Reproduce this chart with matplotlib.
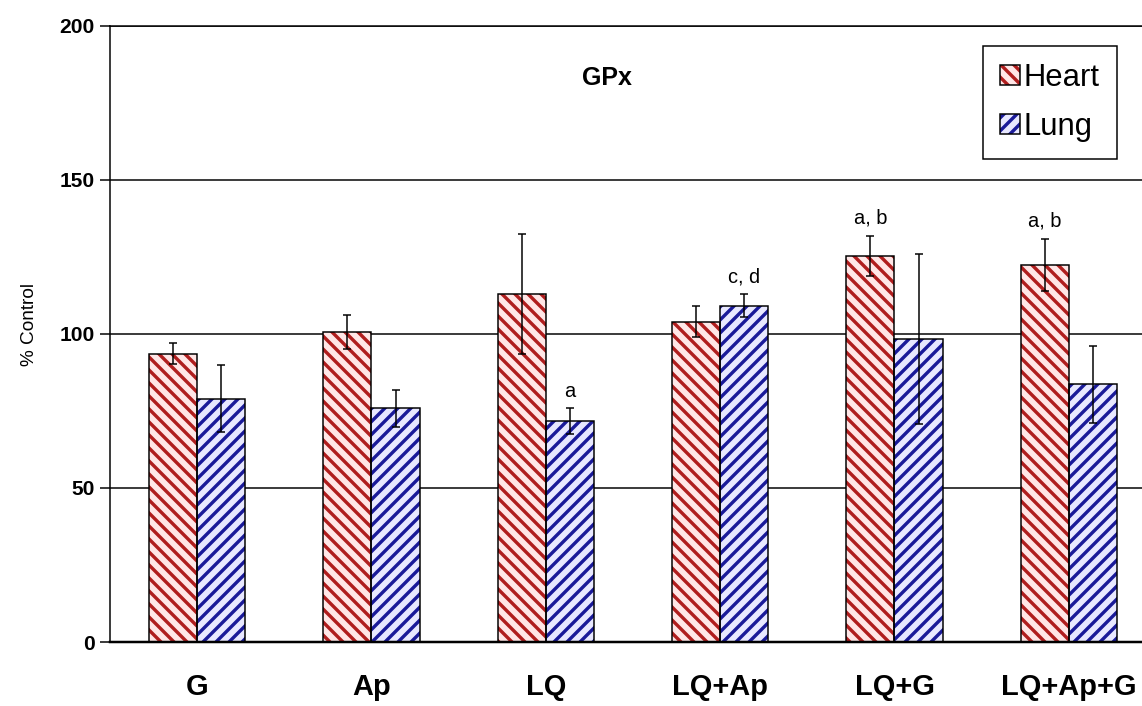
import matplotlib
matplotlib.use('Agg')
import matplotlib.pyplot as plt
from matplotlib.patches import Patch
import numpy as np

# ---- data ----
categories = ['G', 'Ap', 'LQ', 'LQ+Ap', 'LQ+G', 'LQ+Ap+G']
heart = [93.6, 100.5, 113.0, 104.0, 125.4, 122.4]
heart_err = [3.5, 5.5, 19.5, 5.0, 6.5, 8.5]
lung = [79.0, 75.9, 71.6, 109.2, 98.4, 83.6]
lung_err = [11.0, 6.0, 4.2, 3.7, 27.5, 12.6]
annot_cat = [2, 3, 4, 5]
annot_series = ['Lung', 'Lung', 'Heart', 'Heart']
annot_text = ['a', 'c, d', 'a, b', 'a, b']
yticks = [0, 50, 100, 150, 200]
series_names = ['Heart', 'Lung']

# ---- style ----
DPI = 78
W, H = 1142, 706


def pt(px):
    return px * 72.0 / DPI


plt.rcParams['font.family'] = ['Liberation Sans', 'DejaVu Sans']
plt.rcParams['hatch.linewidth'] = pt(3.4)

heart_bg, heart_hc = '#ffe6e6', '#b01e1e'
lung_bg, lung_hc = '#e8e8ff', '#1a1a99'
HH, LH = '\\\\', '//'

fig = plt.figure(figsize=(W / DPI, H / DPI), dpi=DPI)
ax = fig.add_axes([110 / W, 64 / H, (1156 - 110) / W, (680.3 - 64) / H])

x = np.arange(len(categories))
bw = 0.276
hx = x - bw / 2
lx = x + bw / 2

ax.set_axisbelow(True)
ax.yaxis.grid(True, color='k', lw=pt(1.5))

# hatched fills
ax.bar(hx, heart, width=bw, color=heart_bg, edgecolor=heart_hc, hatch=HH, lw=0, zorder=2)
ax.bar(lx, lung, width=bw, color=lung_bg, edgecolor=lung_hc, hatch=LH, lw=0, zorder=2)
# outlines
ax.bar(hx, heart, width=bw, fill=False, edgecolor='k', lw=pt(1.5), zorder=3)
ax.bar(lx, lung, width=bw, fill=False, edgecolor='k', lw=pt(1.5), zorder=3)

ax.errorbar(hx, heart, yerr=heart_err, fmt='none', ecolor='k', elinewidth=pt(1.5),
            capsize=pt(4), capthick=pt(1.5), zorder=4)
ax.errorbar(lx, lung, yerr=lung_err, fmt='none', ecolor='k', elinewidth=pt(1.5),
            capsize=pt(4), capthick=pt(1.5), zorder=4)

for ci, s, t in zip(annot_cat, annot_series, annot_text):
    if s == 'Heart':
        xx, yy = hx[ci], heart[ci] + heart_err[ci]
    else:
        xx, yy = lx[ci], lung[ci] + lung_err[ci]
    ax.text(xx, yy + 2.5, t, ha='center', va='bottom', fontsize=pt(20),
            family=['Liberation Sans Narrow', 'Liberation Sans', 'DejaVu Sans'])

ax.set_xlim(-0.5, len(categories) - 0.5)
ax.set_ylim(0, 200)
ax.set_yticks(yticks)
ax.set_yticklabels([str(v) for v in yticks], fontsize=pt(21), fontweight='bold')
ax.set_xticks(x)
ax.set_xticklabels(categories, fontsize=pt(29), fontweight='bold')
ax.tick_params(axis='y', length=pt(10), width=pt(1.5), direction='out', pad=pt(5))
ax.tick_params(axis='x', length=0, pad=pt(31))

ax.spines['right'].set_visible(False)
ax.spines['top'].set_linewidth(pt(1.5))
ax.spines['left'].set_linewidth(pt(1.5))
ax.spines['bottom'].set_linewidth(pt(2.5))

fig.text(30 / W, 1 - 325 / H, '% Control', rotation=90, ha='center', va='center',
         fontsize=pt(19))
fig.text(607 / W, 1 - 78 / H, 'GPx', ha='center', va='center', fontsize=pt(25),
         fontweight='bold')

handles = [
    (Patch(facecolor=heart_bg, edgecolor=heart_hc, hatch=HH, lw=0),
     Patch(fill=False, edgecolor='k', lw=pt(1.5))),
    (Patch(facecolor=lung_bg, edgecolor=lung_hc, hatch=LH, lw=0),
     Patch(fill=False, edgecolor='k', lw=pt(1.5))),
]
leg = fig.legend(handles, series_names, loc='center',
                 bbox_to_anchor=(1050 / W, 1 - 102.5 / H),
                 frameon=True, fancybox=False, edgecolor='k', framealpha=1,
                 fontsize=pt(31), handlelength=0.65, handleheight=0.6,
                 handletextpad=0.12, labelspacing=0.6, borderpad=0.55)
leg.get_frame().set_linewidth(pt(1.5))

fig.savefig('out.png', dpi=DPI)
